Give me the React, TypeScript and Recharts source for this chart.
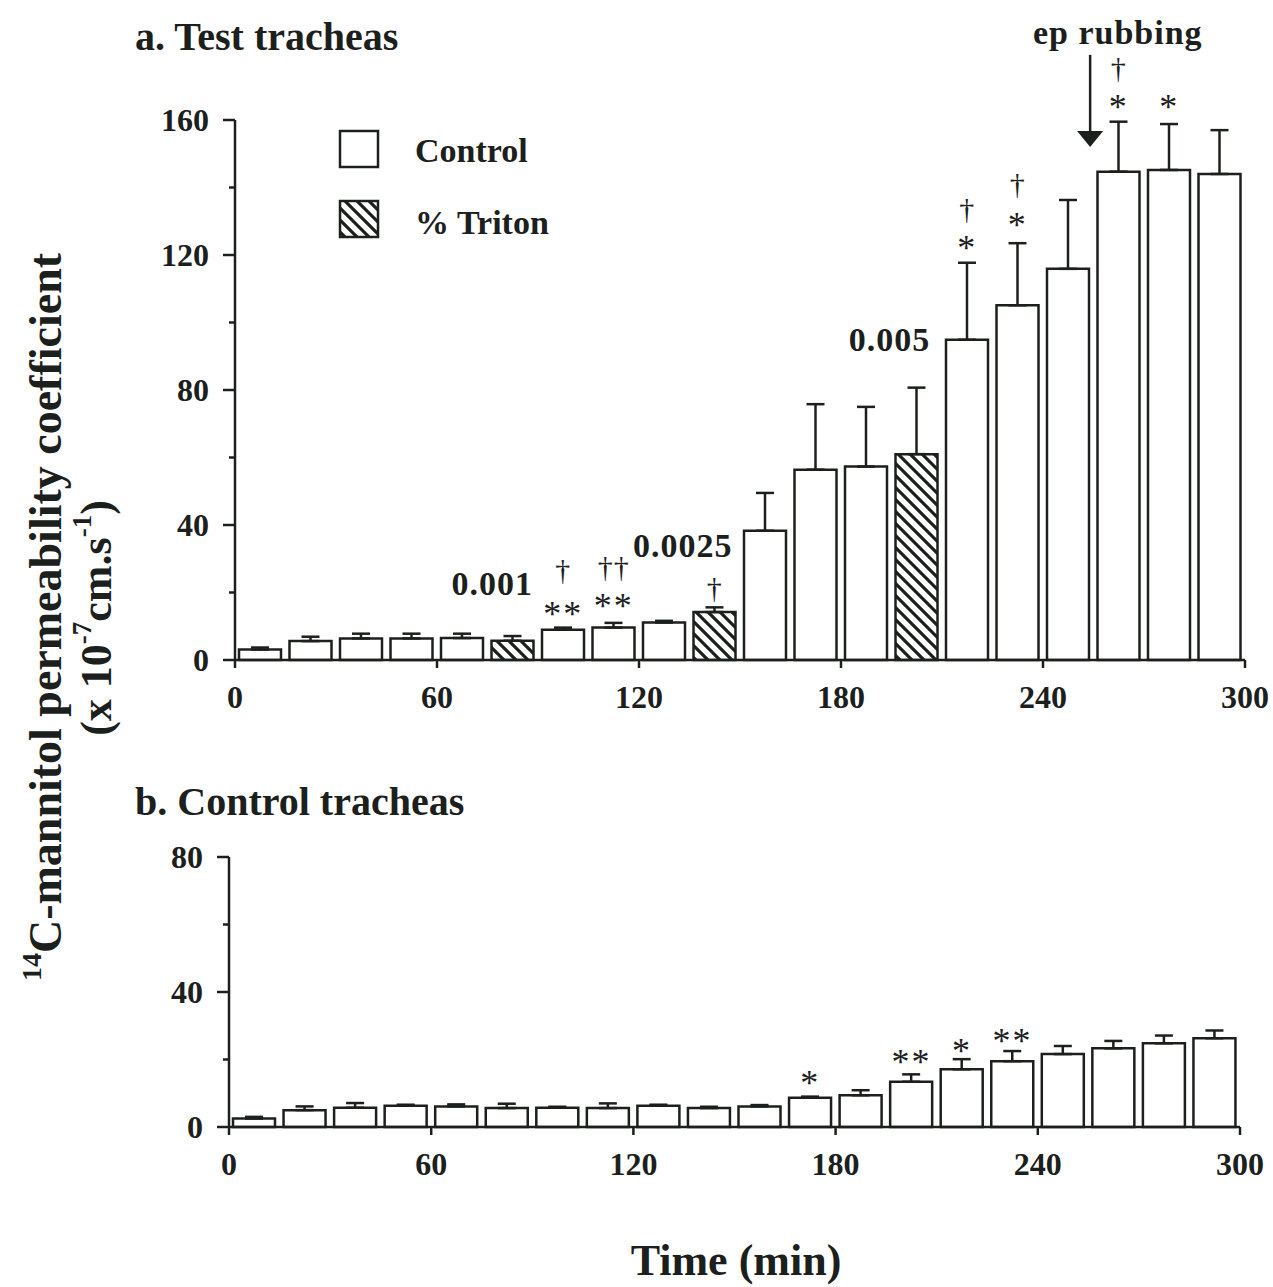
import React from "react";
import {
  BarChart,
  Bar,
  XAxis,
  YAxis,
  ErrorBar,
  Cell,
  ReferenceDot,
  ReferenceLine,
} from "recharts";

const INK = "#1c201d";
const FONT = '"Liberation Serif", "Times New Roman", serif';

// sampling times (min), centre of each 15-min period
const times = [
  7.5, 22.5, 37.5, 52.5, 67.5, 82.5, 97.5, 112.5, 127.5, 142.5, 157.5, 172.5,
  187.5, 202.5, 217.5, 232.5, 247.5, 262.5, 277.5, 292.5,
];
const timeTicks = [0, 60, 120, 180, 240, 300];

// a. test tracheas
const testMean = [
  3.1, 5.6, 6.4, 6.4, 6.5, 5.7, 9.0, 9.6, 11.1, 14.2, 38.3, 56.4, 57.3, 61.0,
  94.9, 105.1, 115.9, 144.7, 145.2, 144.0,
];
const testSem = [
  0.6, 1.3, 1.4, 1.4, 1.3, 1.4, 0.6, 1.4, 0.5, 1.4, 11.2, 19.4, 17.7, 19.7,
  22.8, 18.4, 20.4, 14.8, 13.6, 13.0,
];
const testTicks = [0, 20, 40, 60, 80, 100, 120, 140, 160];
const tritonTimes = [82.5, 142.5, 202.5];
const tritonDoses = ["0.001", "0.0025", "0.005"];
const doseAt: [number, number][] = [
  [76.4, 22.8],
  [133, 34],
  [194.4, 95.1],
];
const testMarks: [number, number, string][] = [
  [97.5, 26.7, "†"],
  [97.5, 15.7, "**"],
  [112.5, 27.6, "††"],
  [112.5, 18.1, "**"],
  [142.5, 21.6, "†"],
  [217.5, 133.9, "†"],
  [217.5, 124.2, "*"],
  [232.5, 141.1, "†"],
  [232.5, 131.1, "*"],
  [262.5, 175.7, "†"],
  [262.5, 165.9, "*"],
  [277.5, 165.9, "*"],
];
const rubbingTime = 254;

// b. control tracheas
const ctrlMean = [
  2.5, 5.0, 5.7, 6.3, 6.1, 5.6, 5.7, 5.6, 6.3, 5.6, 6.1, 8.7, 9.4, 13.4, 17.1,
  19.5, 21.6, 23.3, 24.8, 26.3,
];
const ctrlSem = [
  0.5, 1.1, 1.4, 0.3, 0.6, 1.3, 0.3, 1.4, 0.3, 0.4, 0.4, 0.3, 1.5, 2.2, 3.0,
  3.0, 2.4, 2.2, 2.3, 2.3,
];
const ctrlTicks = [0, 20, 40, 60, 80];
const ctrlMarks: [number, number, string][] = [
  [172.5, 15.3, "*"],
  [202.5, 21.3, "**"],
  [217.5, 24.8, "*"],
  [232.5, 27.7, "**"],
];

const testData = times.map((t, i) => ({
  t,
  v: testMean[i],
  e: [0, testSem[i]],
  triton: tritonTimes.includes(t),
}));
const ctrlData = times.map((t, i) => ({ t, v: ctrlMean[i], e: [0, ctrlSem[i]] }));

const Hatch = ({ id }: { id: string }) => (
  <defs>
    <pattern id={id} patternUnits="userSpaceOnUse" width="12" height="12">
      <rect width="12" height="12" fill="#fff" />
      <path
        d="M-3,-3 L15,15 M-3,9 L3,15 M9,-3 L15,3"
        stroke={INK}
        strokeWidth="3.2"
      />
    </pattern>
  </defs>
);

const XTick = (p: any) => (
  <g>
    <line x1={p.x} y1={p.y} x2={p.x} y2={p.y + 8} stroke={INK} strokeWidth={2.5} />
    <text
      x={p.x}
      y={p.y + 37}
      textAnchor="middle"
      dominantBaseline="central"
      fontFamily={FONT}
      fontWeight="bold"
      fontSize={32}
      fill={INK}
    >
      {p.payload.value}
    </text>
  </g>
);

const YTick = (p: any) => {
  const major = p.payload.value % 40 === 0;
  return (
    <g>
      <line
        x1={p.x - (major ? 12 : 6)}
        y1={p.y}
        x2={p.x}
        y2={p.y}
        stroke={INK}
        strokeWidth={2.5}
      />
      {major && (
        <text
          x={p.x - 26}
          y={p.y}
          textAnchor="end"
          dominantBaseline="central"
          fontFamily={FONT}
          fontWeight="bold"
          fontSize={32}
          fill={INK}
        >
          {p.payload.value}
        </text>
      )}
    </g>
  );
};

const markShape = (text: string, size: number, bold: boolean) => (p: any) => {
  const star = text.includes("*");
  return (
    <text
      x={p.cx}
      y={p.cy + (star ? size * 0.2 : 0)}
      textAnchor="middle"
      dominantBaseline="central"
      fontFamily={FONT}
      fontWeight={bold ? "bold" : "normal"}
      fontSize={size}
      letterSpacing={star ? 2 : 1}
      fill={INK}
    >
      {text}
    </text>
  );
};

const arrowHead = (p: any) => (
  <polygon
    points={`${p.cx},${p.cy} ${p.cx - 13},${p.cy - 16} ${p.cx + 13},${p.cy - 16}`}
    fill={INK}
  />
);

export default function App() {
  return (
    <div style={{ position: "relative", width: 1273, height: 1287, background: "#fff" }}>
      <style>{"body{margin:0;background:#fff}"}</style>

      {/* a. Test tracheas */}
      <div style={{ position: "absolute", left: 0, top: 0 }}>
        <BarChart
          width={1273}
          height={720}
          data={testData}
          margin={{ top: 120, right: 28, bottom: 10, left: 115 }}
        >
          <Hatch id="hatchA" />
          <XAxis
            dataKey="t"
            type="number"
            domain={[0, 300]}
            ticks={timeTicks}
            height={50}
            tickSize={0}
            tickMargin={0}
            tickLine={false}
            tick={<XTick />}
            axisLine={{ stroke: INK, strokeWidth: 2.5 }}
          />
          <YAxis
            type="number"
            domain={[0, 160]}
            ticks={testTicks}
            width={120}
            tickSize={0}
            tickMargin={0}
            tickLine={false}
            tick={<YTick />}
            axisLine={{ stroke: INK, strokeWidth: 2.5 }}
          />
          <Bar
            dataKey="v"
            barSize={42}
            stroke={INK}
            strokeWidth={2.5}
            isAnimationActive={false}
          >
            {testData.map((d, i) => (
              <Cell key={i} fill={d.triton ? "url(#hatchA)" : "#fff"} />
            ))}
            <ErrorBar
              dataKey="e"
              direction="y"
              width={9}
              stroke={INK}
              strokeWidth={2.5}
              isAnimationActive={false}
            />
          </Bar>
          {tritonDoses.map((d, i) => (
            <ReferenceDot
              key={"dose" + i}
              x={doseAt[i][0]}
              y={doseAt[i][1]}
              r={0}
              ifOverflow="visible"
              shape={markShape(d, 34, true)}
            />
          ))}
          {testMarks.map(([t, v, s], i) => (
            <ReferenceDot
              key={"m" + i}
              x={t}
              y={v}
              r={0}
              ifOverflow="visible"
              shape={markShape(s, s.includes("*") ? 36 : 30, false)}
            />
          ))}
          <ReferenceLine
            segment={[
              { x: rubbingTime, y: 179.3 },
              { x: rubbingTime, y: 156 },
            ]}
            stroke={INK}
            strokeWidth={2.5}
            ifOverflow="visible"
          />
          <ReferenceDot
            x={rubbingTime}
            y={152}
            r={0}
            ifOverflow="visible"
            shape={arrowHead}
          />
          <ReferenceDot
            x={262.2}
            y={186}
            r={0}
            ifOverflow="visible"
            shape={markShape("ep rubbing", 34, true)}
          />
        </BarChart>
      </div>

      {/* b. Control tracheas */}
      <div style={{ position: "absolute", left: 0, top: 740 }}>
        <BarChart
          width={1273}
          height={480}
          data={ctrlData}
          margin={{ top: 117, right: 33, bottom: 48, left: 109 }}
        >
          <XAxis
            dataKey="t"
            type="number"
            domain={[0, 300]}
            ticks={timeTicks}
            height={45}
            tickSize={0}
            tickMargin={0}
            tickLine={false}
            tick={<XTick />}
            axisLine={{ stroke: INK, strokeWidth: 2.5 }}
          />
          <YAxis
            type="number"
            domain={[0, 80]}
            ticks={ctrlTicks}
            width={120}
            tickSize={0}
            tickMargin={0}
            tickLine={false}
            tick={<YTick />}
            axisLine={{ stroke: INK, strokeWidth: 2.5 }}
          />
          <Bar
            dataKey="v"
            barSize={42}
            fill="#fff"
            stroke={INK}
            strokeWidth={2.5}
            isAnimationActive={false}
          >
            <ErrorBar
              dataKey="e"
              direction="y"
              width={9}
              stroke={INK}
              strokeWidth={2.5}
              isAnimationActive={false}
            />
          </Bar>
          {ctrlMarks.map(([t, v, s], i) => (
            <ReferenceDot
              key={"c" + i}
              x={t}
              y={v}
              r={0}
              ifOverflow="visible"
              shape={markShape(s, 36, false)}
            />
          ))}
        </BarChart>
      </div>

      {/* titles, legend, axis titles */}
      <svg
        width={1273}
        height={1287}
        style={{ position: "absolute", left: 0, top: 0, pointerEvents: "none" }}
        fontFamily={FONT}
        fontWeight="bold"
        fill={INK}
      >
        <Hatch id="hatchL" />
        <text x={135} y={50} fontSize={40}>
          a. Test tracheas
        </text>
        <text x={135} y={815} fontSize={40}>
          b. Control tracheas
        </text>

        <rect x={340} y={131} width={38} height={36} fill="#fff" stroke={INK} strokeWidth={2.5} />
        <text x={415} y={150} fontSize={34} dominantBaseline="central">
          Control
        </text>
        <rect x={340} y={201} width={38} height={36} fill="url(#hatchL)" stroke={INK} strokeWidth={2.5} />
        <text x={415} y={222} fontSize={34} dominantBaseline="central">
          % Triton
        </text>

        <text
          transform="translate(45,617) rotate(-90)"
          textAnchor="middle"
          dominantBaseline="central"
          fontSize={46}
        >
          <tspan fontSize={28} dy={-14}>
            14
          </tspan>
          <tspan dy={14}>C-mannitol permeability coefficient</tspan>
        </text>
        <text
          transform="translate(96,618) rotate(-90)"
          textAnchor="middle"
          dominantBaseline="central"
          fontSize={44}
        >
          (x 10
          <tspan fontSize={27} dy={-14}>
            -7
          </tspan>
          <tspan dy={14}>cm.s</tspan>
          <tspan fontSize={27} dy={-14}>
            -1
          </tspan>
          <tspan dy={14}>)</tspan>
        </text>

        <text x={736} y={1275} fontSize={44} textAnchor="middle">
          Time (min)
        </text>
      </svg>
    </div>
  );
}
